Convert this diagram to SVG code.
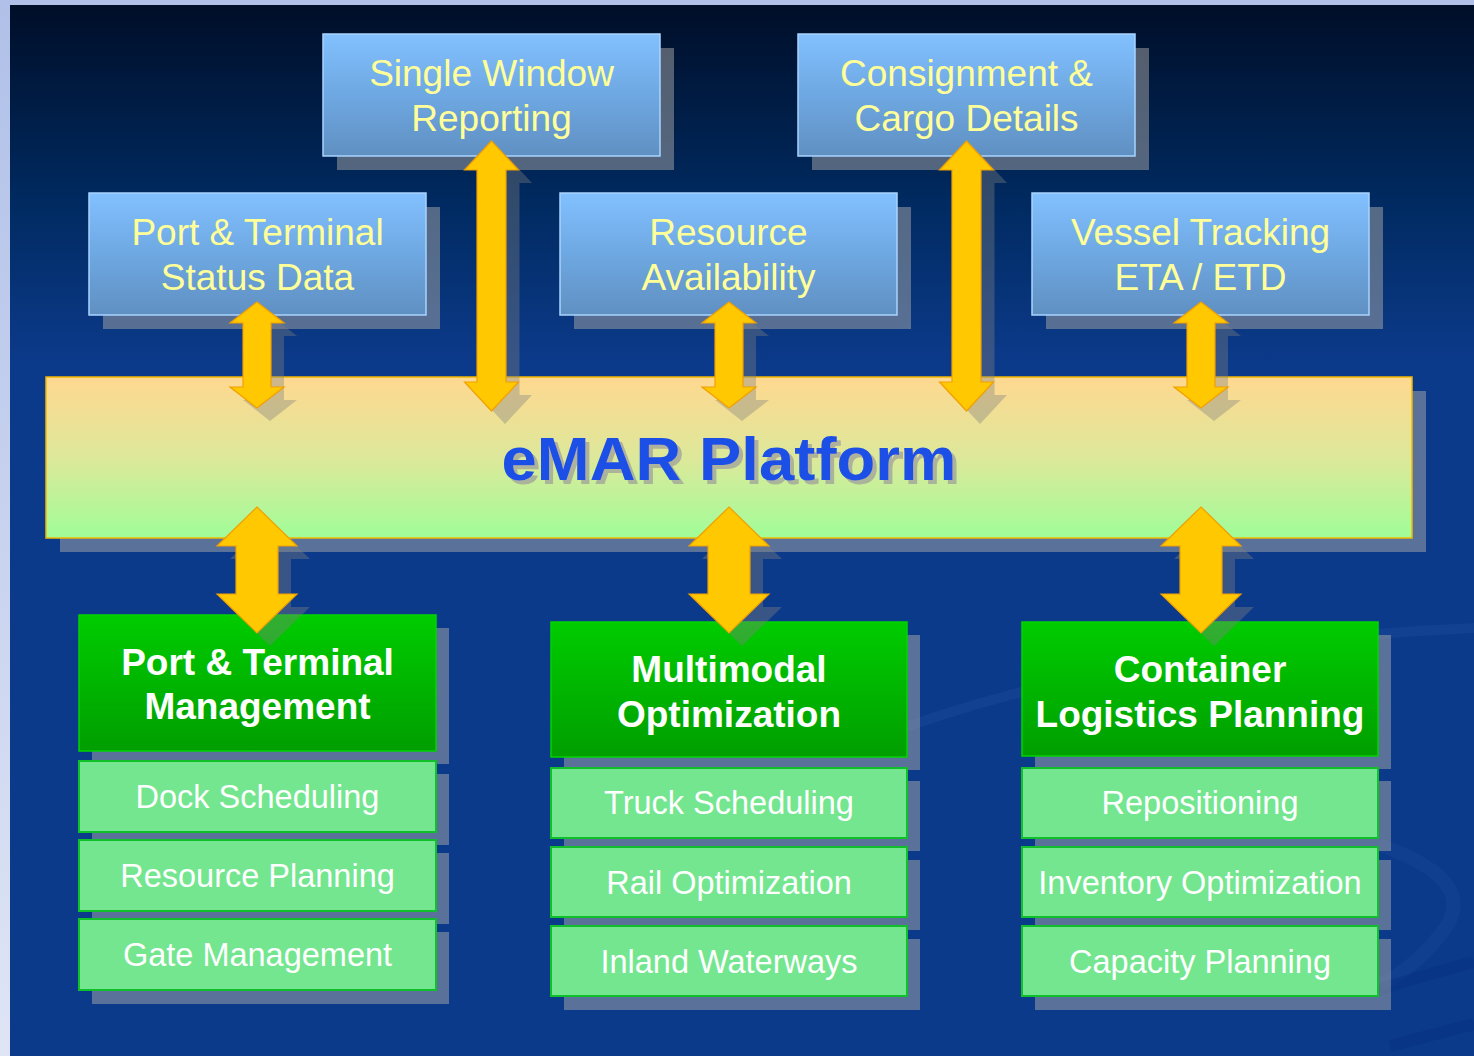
<svg xmlns="http://www.w3.org/2000/svg" width="1474" height="1056" viewBox="0 0 1474 1056">
  <defs>
    <linearGradient id="bg" x1="0" y1="5" x2="0" y2="360" gradientUnits="userSpaceOnUse">
      <stop offset="0" stop-color="#000e28"/>
      <stop offset="0.55" stop-color="#002a60"/>
      <stop offset="1" stop-color="#0c3a8a"/>
    </linearGradient>
    <linearGradient id="frame" x1="0" y1="0" x2="0" y2="1">
      <stop offset="0" stop-color="#b0c0e8"/>
      <stop offset="1" stop-color="#dfe5f5"/>
    </linearGradient>
    <linearGradient id="topbox" x1="0" y1="0" x2="0" y2="1">
      <stop offset="0" stop-color="#82c0ff"/>
      <stop offset="0.5" stop-color="#6ea8e2"/>
      <stop offset="1" stop-color="#6090c2"/>
    </linearGradient>
    <linearGradient id="platform" x1="0" y1="0" x2="0" y2="1">
      <stop offset="0" stop-color="#ffd890"/>
      <stop offset="0.5" stop-color="#dde89a"/>
      <stop offset="1" stop-color="#a0fd98"/>
    </linearGradient>
    <linearGradient id="header" x1="0" y1="0" x2="0" y2="1">
      <stop offset="0" stop-color="#00cc00"/>
      <stop offset="1" stop-color="#009e00"/>
    </linearGradient>
    <filter id="textShadow" x="-5%" y="-20%" width="110%" height="140%">
      <feOffset in="SourceAlpha" dx="4" dy="4" result="off"/>
      <feFlood flood-color="#9a9a9a" flood-opacity="0.7"/>
      <feComposite in2="off" operator="in" result="sh"/>
      <feMerge>
        <feMergeNode in="sh"/>
        <feMergeNode in="SourceGraphic"/>
      </feMerge>
    </filter>
    <path id="arSmall" d="M0,0 L27,21 L14,21 L14,85 L27,85 L0,106 L-27,85 L-14,85 L-14,21 L-27,21 Z"/>
    <path id="arLong" d="M0,0 L27,29 L14.5,29 L14.5,241 L27,241 L0,270 L-27,241 L-14.5,241 L-14.5,29 L-27,29 Z"/>
    <path id="arBig" d="M0,0 L40,39 L21,39 L21,87 L40,87 L0,126 L-40,87 L-21,87 L-21,39 L-40,39 Z"/>
  </defs>
  <style>
    .shadow { fill: #a8a8a8; fill-opacity: 0.5; }
    .tbox { fill: url(#topbox); stroke: #a8d4ff; stroke-width: 1.5; }
    .ttext { font-family: "Liberation Sans", Arial, sans-serif; font-size: 37px; fill: #ffff99; text-anchor: middle; }
    .hbox { fill: url(#header); stroke: #00d400; stroke-width: 1.5; }
    .htext { font-family: "Liberation Sans", Arial, sans-serif; font-size: 37px; font-weight: bold; fill: #ffffff; text-anchor: middle; }
    .sbox { fill: #73e68f; stroke: #0fc02a; stroke-width: 2; }
    .stext { font-family: "Liberation Sans", Arial, sans-serif; font-size: 32.5px; fill: #ffffff; text-anchor: middle; }
    .arrow { fill: #ffc800; stroke: #f0a000; stroke-width: 1.2; }
    .ashadow { fill: #808080; fill-opacity: 0.38; }
  </style>

  <!-- background -->
  <rect x="0" y="0" width="1474" height="1056" fill="url(#frame)"/>
  <rect x="10" y="5" width="1464" height="1051" fill="url(#bg)"/>
  <g fill="none">
    <path d="M870,740 C1000,690 1200,640 1474,628" stroke="#2f5fae" stroke-opacity="0.2" stroke-width="10"/>
    <path d="M1380,845 C1450,870 1470,900 1440,935 C1420,960 1400,975 1380,985" stroke="#2a5aa8" stroke-opacity="0.18" stroke-width="14"/>
    <path d="M1378,990 C1410,980 1440,970 1474,962" stroke="#002c7c" stroke-opacity="0.3" stroke-width="12"/>
    <path d="M1390,1046 C1420,1038 1450,1030 1474,1024" stroke="#002c7c" stroke-opacity="0.3" stroke-width="12"/>
  </g>

  <!-- top source nodes -->
  <g id="single-window">
    <rect class="shadow" x="337" y="48" width="337" height="122"/>
    <rect class="tbox" x="323" y="34" width="337" height="122"/>
    <text class="ttext" x="491.5" y="86">Single Window</text>
    <text class="ttext" x="491.5" y="131">Reporting</text>
  </g>
  <g id="consignment">
    <rect class="shadow" x="812" y="48" width="337" height="122"/>
    <rect class="tbox" x="798" y="34" width="337" height="122"/>
    <text class="ttext" x="966.5" y="86">Consignment &amp;</text>
    <text class="ttext" x="966.5" y="131">Cargo Details</text>
  </g>
  <g id="port-status">
    <rect class="shadow" x="103" y="207" width="337" height="122"/>
    <rect class="tbox" x="89" y="193" width="337" height="122"/>
    <text class="ttext" x="257.5" y="245">Port &amp; Terminal</text>
    <text class="ttext" x="257.5" y="290">Status Data</text>
  </g>
  <g id="resource-availability">
    <rect class="shadow" x="574" y="207" width="337" height="122"/>
    <rect class="tbox" x="560" y="193" width="337" height="122"/>
    <text class="ttext" x="728.5" y="245">Resource</text>
    <text class="ttext" x="728.5" y="290">Availability</text>
  </g>
  <g id="vessel-tracking">
    <rect class="shadow" x="1046" y="207" width="337" height="122"/>
    <rect class="tbox" x="1032" y="193" width="337" height="122"/>
    <text class="ttext" x="1200.5" y="245">Vessel Tracking</text>
    <text class="ttext" x="1200.5" y="290">ETA / ETD</text>
  </g>

  <!-- platform -->
  <g id="emar-platform">
    <rect class="shadow" x="60" y="391" width="1366" height="161"/>
    <rect x="46" y="377" width="1366" height="161" fill="url(#platform)" stroke="#f2b800" stroke-width="1.5"/>
    <text x="729" y="480" font-family="'Liberation Sans', Arial, sans-serif" font-size="62" font-weight="bold" fill="#1e50e6" text-anchor="middle" textLength="455" lengthAdjust="spacingAndGlyphs" filter="url(#textShadow)">eMAR Platform</text>
  </g>

  <!-- bottom modules -->
  <g id="port-terminal-management">
    <rect class="shadow" x="92" y="628" width="357" height="136"/>
    <rect class="hbox" x="79" y="615" width="357" height="136"/>
    <text class="htext" x="257.5" y="675">Port &amp; Terminal</text>
    <text class="htext" x="257.5" y="719">Management</text>
  </g>
  <g id="dock-scheduling">
    <rect class="shadow" x="92" y="774" width="357" height="71"/>
    <rect class="sbox" x="79" y="761" width="357" height="71"/>
    <text class="stext" x="257.5" y="808">Dock Scheduling</text>
  </g>
  <g id="resource-planning">
    <rect class="shadow" x="92" y="853" width="357" height="71"/>
    <rect class="sbox" x="79" y="840" width="357" height="71"/>
    <text class="stext" x="257.5" y="887">Resource Planning</text>
  </g>
  <g id="gate-management">
    <rect class="shadow" x="92" y="932" width="357" height="72"/>
    <rect class="sbox" x="79" y="919" width="357" height="71"/>
    <text class="stext" x="257.5" y="966">Gate Management</text>
  </g>

  <g id="multimodal-optimization">
    <rect class="shadow" x="564" y="635" width="356" height="135"/>
    <rect class="hbox" x="551" y="622" width="356" height="135"/>
    <text class="htext" x="729" y="682">Multimodal</text>
    <text class="htext" x="729" y="727">Optimization</text>
  </g>
  <g id="truck-scheduling">
    <rect class="shadow" x="564" y="781" width="356" height="70"/>
    <rect class="sbox" x="551" y="768" width="356" height="70"/>
    <text class="stext" x="729" y="814">Truck Scheduling</text>
  </g>
  <g id="rail-optimization">
    <rect class="shadow" x="564" y="860" width="356" height="70"/>
    <rect class="sbox" x="551" y="847" width="356" height="70"/>
    <text class="stext" x="729" y="894">Rail Optimization</text>
  </g>
  <g id="inland-waterways">
    <rect class="shadow" x="564" y="939" width="356" height="71"/>
    <rect class="sbox" x="551" y="926" width="356" height="70"/>
    <text class="stext" x="729" y="973">Inland Waterways</text>
  </g>

  <g id="container-logistics-planning">
    <rect class="shadow" x="1035" y="635" width="356" height="134"/>
    <rect class="hbox" x="1022" y="622" width="356" height="134"/>
    <text class="htext" x="1200" y="682">Container</text>
    <text class="htext" x="1200" y="727">Logistics Planning</text>
  </g>
  <g id="repositioning">
    <rect class="shadow" x="1035" y="781" width="356" height="70"/>
    <rect class="sbox" x="1022" y="768" width="356" height="70"/>
    <text class="stext" x="1200" y="814">Repositioning</text>
  </g>
  <g id="inventory-optimization">
    <rect class="shadow" x="1035" y="860" width="356" height="70"/>
    <rect class="sbox" x="1022" y="847" width="356" height="70"/>
    <text class="stext" x="1200" y="894">Inventory Optimization</text>
  </g>
  <g id="capacity-planning">
    <rect class="shadow" x="1035" y="939" width="356" height="71"/>
    <rect class="sbox" x="1022" y="926" width="356" height="70"/>
    <text class="stext" x="1200" y="973">Capacity Planning</text>
  </g>

  <!-- connectors -->
  <g id="connectors">
    <use href="#arSmall" class="ashadow" x="270" y="315"/>
    <use href="#arSmall" class="arrow" x="257" y="302"/>
    <use href="#arSmall" class="ashadow" x="742" y="315"/>
    <use href="#arSmall" class="arrow" x="729" y="302"/>
    <use href="#arSmall" class="ashadow" x="1214" y="315"/>
    <use href="#arSmall" class="arrow" x="1201" y="302"/>
    <use href="#arLong" class="ashadow" x="505" y="154"/>
    <use href="#arLong" class="arrow" x="491.5" y="141"/>
    <use href="#arLong" class="ashadow" x="980" y="154"/>
    <use href="#arLong" class="arrow" x="966.5" y="141"/>
    <use href="#arBig" class="ashadow" x="270" y="520"/>
    <use href="#arBig" class="arrow" x="257" y="507"/>
    <use href="#arBig" class="ashadow" x="742" y="520"/>
    <use href="#arBig" class="arrow" x="729" y="507"/>
    <use href="#arBig" class="ashadow" x="1214" y="520"/>
    <use href="#arBig" class="arrow" x="1201" y="507"/>
  </g>
</svg>
